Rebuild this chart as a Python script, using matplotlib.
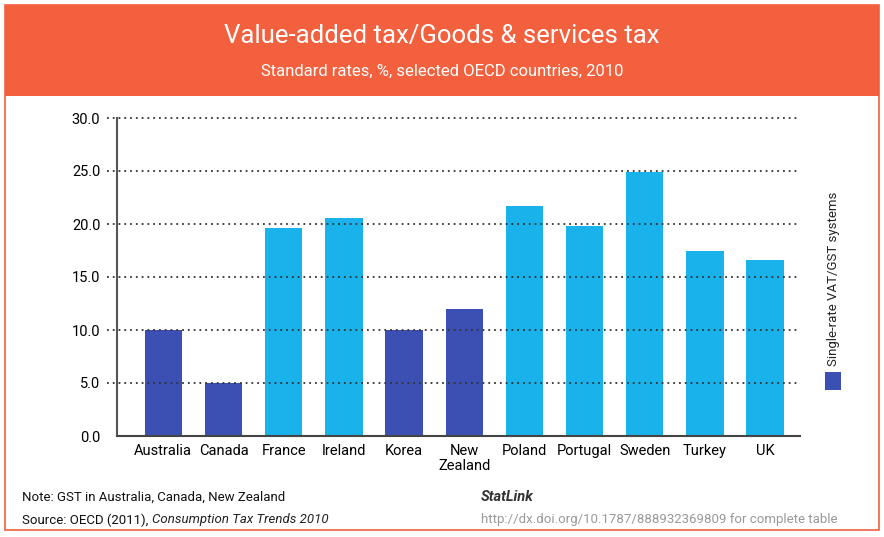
import matplotlib.pyplot as plt
from matplotlib.patches import Rectangle

countries = ["Australia", "Canada", "France", "Ireland", "Korea", "New\nZealand",
             "Poland", "Portugal", "Sweden", "Turkey", "UK"]
rates = [10.0, 5.0, 19.6, 20.6, 10.0, 12.0, 21.7, 19.8, 24.9, 17.5, 16.6]
single_rate = [True, True, False, False, True, True, False, False, False, False, False]
yticks = [0, 5, 10, 15, 20, 25, 30]

DARK = "#3b50b2"
LIGHT = "#19b2ea"
ORANGE = "#f2603d"

plt.rcParams['font.family'] = ["Roboto", "DejaVu Sans"]

fig = plt.figure(figsize=(8.84, 5.37), dpi=100)

# frame and header band
fig.patches.append(Rectangle((5 / 884, 7 / 537), 874 / 884, 525 / 537, transform=fig.transFigure,
                             facecolor="white", edgecolor=ORANGE, linewidth=1.2, zorder=-2))
fig.patches.append(Rectangle((5 / 884, 1 - 96 / 537), 874 / 884, 91 / 537, transform=fig.transFigure,
                             facecolor=ORANGE, edgecolor="none", zorder=-1))
fig.text(0.5, 1 - 36 / 537, "Value-added tax/Goods & services tax", ha="center", va="center",
         color="white", fontsize=18.5)
fig.text(0.5, 1 - 71 / 537, "Standard rates, %, selected OECD countries, 2010", ha="center",
         va="center", color="white", fontsize=12)

ax = fig.add_axes([117 / 884, 1 - 436 / 537, 683 / 884, 318 / 537])
ax.set_facecolor("none")
x = range(len(countries))
colors = [DARK if s else LIGHT for s in single_rate]
ax.bar(x, rates, width=0.62, color=colors, zorder=2)

ax.set_ylim(0, 30)
ax.set_xlim(-0.77, 10.58)
ax.set_yticks(yticks)
ax.set_yticklabels([f"{v:.1f}" for v in yticks], fontsize=10.5)
ax.set_xticks(list(x))
ax.set_xticklabels(countries, fontsize=10.5, linespacing=1.1)
ax.tick_params(axis="both", length=0, pad=6)
ax.tick_params(axis="y", pad=12)
for v in yticks[1:]:
    ax.axhline(v, xmin=-0.015, xmax=1, color="#333333", linestyle=(0, (1, 2.2)), linewidth=1.3,
               zorder=3, clip_on=False)
for side in ["top", "right"]:
    ax.spines[side].set_visible(False)
ax.spines["left"].set_color("#555555")
ax.spines["left"].set_linewidth(1.5)
ax.spines["bottom"].set_color("#444444")
ax.spines["bottom"].set_linewidth(1.5)
ax.spines["bottom"].set_zorder(4)

# legend: swatch with vertical caption
fig.patches.append(Rectangle((825 / 884, 1 - 390 / 537), 16 / 884, 18 / 537, transform=fig.transFigure,
                             facecolor=DARK, edgecolor="none", zorder=2))
fig.text(833 / 884, 1 - 279 / 537, "Single-rate VAT/GST systems", rotation=90, ha="center",
         va="center", fontsize=9.5, color="#222222")

# notes
fig.text(22 / 884, 1 - 497 / 537, "Note: GST in Australia, Canada, New Zealand", fontsize=9.5,
         va="center", color="#111111")
src = fig.text(22 / 884, 1 - 520 / 537, "Source: OECD (2011), ", fontsize=9.5, va="center",
               color="#111111")
fig.canvas.draw()
bb = src.get_window_extent().transformed(fig.transFigure.inverted())
fig.text(bb.x1, 1 - 520 / 537, "Consumption Tax Trends 2010", fontsize=9.5, va="center",
         style="italic", color="#222222")
fig.text(481 / 884, 1 - 497 / 537, "StatLink", fontsize=10.5, va="center", style="italic",
         weight="bold", color="#333333")
fig.text(481 / 884, 1 - 520 / 537, "http://dx.doi.org/10.1787/888932369809 for complete table",
         fontsize=9.5, va="center", color="#999999")

fig.savefig("out.png", dpi=100)
